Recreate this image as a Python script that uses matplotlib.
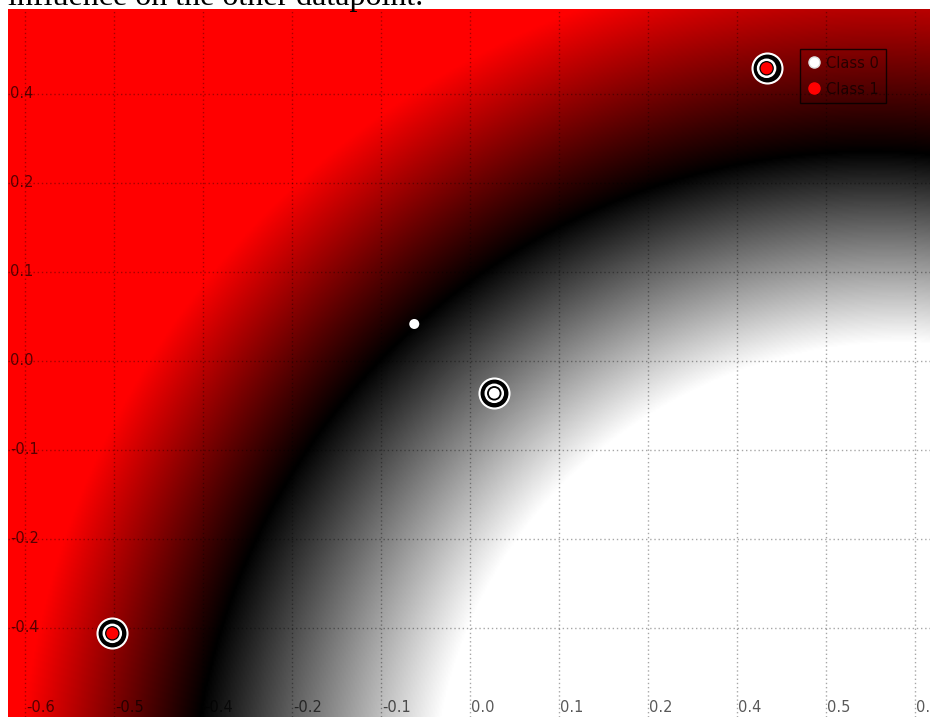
import numpy as np
import matplotlib
matplotlib.use("Agg")
import matplotlib.pyplot as plt
from matplotlib.colors import LinearSegmentedColormap
from matplotlib.lines import Line2D
from matplotlib import transforms

# data points
class0_x = [0.0273, -0.0626]
class0_y = [-0.0363, 0.0416]
class1_x = [-0.4019, 0.3333]
class1_y = [-0.306, 0.3289]
sv0 = [True, False]   # which class 0 points are support vectors
sv1 = [True, True]

# decision field: zero (black) on a circle, fading to white inside and red outside
field_center = (0.4494, -0.5281)
r_boundary = 0.764
# band widths towards the left (horizontal) and upwards (vertical)
white_width = (0.270, 0.2135)
red_width = (0.197, 0.225)
angle_up, angle_left = np.radians(85), np.radians(170)

x_ticks = [-0.5, -0.4, -0.3, -0.2, -0.1, 0.0, 0.1, 0.2, 0.3, 0.4, 0.5]
x_labels = ["-0.6", "-0.5", "-0.4", "-0.2", "-0.1", "0.0", "0.1", "0.2", "0.4", "0.5", "0."]
y_ticks = [0.3, 0.2, 0.1, 0.0, -0.1, -0.2, -0.3]
y_labels = ["0.4", "0.2", "0.1", "0.0", "-0.1", "-0.2", "-0.4"]

xlim = (-0.5191, 0.5169)
ylim = (-0.4, 0.3955)

fig = plt.figure(figsize=(9.3, 7.17), dpi=100)
ax = fig.add_axes([8 / 930, 0, 922 / 930, 708 / 717])

# background field
gx = np.linspace(xlim[0], xlim[1], 700)
gy = np.linspace(ylim[0], ylim[1], 560)
X, Y = np.meshgrid(gx, gy)
dx, dy = X - field_center[0], Y - field_center[1]
R = np.hypot(dx, dy)
phi = np.arctan2(dy, dx)
s = np.clip((phi - angle_up) / (angle_left - angle_up), 0, 1)
w_in = white_width[1] + s * (white_width[0] - white_width[1])
w_out = red_width[1] + s * (red_width[0] - red_width[1])
d = R - r_boundary
val = np.where(d < 0, d / w_in, d / w_out)
cmap = LinearSegmentedColormap.from_list("wbr", ["white", "black", "red"])
ax.imshow(np.clip(val, -1, 1), cmap=cmap, vmin=-1, vmax=1, origin="lower",
          extent=[xlim[0], xlim[1], ylim[0], ylim[1]], interpolation="bilinear",
          aspect="auto", zorder=0)

ax.set_xlim(xlim)
ax.set_ylim(ylim)
ax.set_xticks(x_ticks)
ax.set_yticks(y_ticks)
ax.tick_params(length=0, labelbottom=False, labelleft=False)
ax.grid(True, color="black", alpha=0.35, linestyle=(0, (1, 2)), linewidth=1)
for sp in ax.spines.values():
    sp.set_visible(False)

# tick labels drawn inside the plot area
lab_color = (0, 0, 0, 0.65)
xoff = transforms.offset_copy(ax.transData, fig=fig, x=1, y=0, units="dots")
xtrans = transforms.blended_transform_factory(xoff, ax.transAxes)
xtrans = xtrans + transforms.ScaledTranslation(0, 5 / 100, fig.dpi_scale_trans)
for xt, lb in zip(x_ticks, x_labels):
    ax.text(xt, 0, lb, transform=xtrans, fontsize=10.5, color=lab_color,
            ha="left", va="baseline")
ytrans = transforms.blended_transform_factory(ax.transAxes, ax.transData)
for yt, lb in zip(y_ticks, y_labels):
    ax.text(2 / 922, yt, lb, transform=ytrans, fontsize=10.5, color=lab_color,
            ha="left", va="center")

# support vectors get a black ring with white outlines
sv_x = [x for x, f in zip(class0_x + class1_x, sv0 + sv1) if f]
sv_y = [y for y, f in zip(class0_y + class1_y, sv0 + sv1) if f]
ax.scatter(sv_x, sv_y, s=466, facecolor="black", edgecolor="white", linewidth=1.5, zorder=3)
ax.scatter(sv_x, sv_y, s=150, facecolor="none", edgecolor="white", linewidth=1.8, zorder=4)

ax.scatter(class0_x, class0_y, s=[60 if f else 52 for f in sv0], facecolor="white",
           edgecolor="none", zorder=5)
ax.scatter(class1_x, class1_y, s=75, facecolor="red", edgecolor="none", zorder=5)

handles = [Line2D([], [], marker="o", linestyle="", markersize=8, markerfacecolor="white",
                  markeredgecolor="#dddddd", label="Class 0"),
           Line2D([], [], marker="o", linestyle="", markersize=8, markerfacecolor="red",
                  markeredgecolor="red", label="Class 1")]
leg = ax.legend(handles=handles, loc="upper left", bbox_to_anchor=(0.859, 0.9435),
                borderaxespad=0, fancybox=False, fontsize=10.5,
                handletextpad=0.35, borderpad=0.45, labelspacing=0.75, handlelength=1)
leg.get_frame().set_edgecolor((0, 0, 0, 0.6))
leg.get_frame().set_facecolor("none")
leg.get_frame().set_linewidth(1)
for t in leg.get_texts():
    t.set_color(lab_color)

fig.text(8 / 930, 1 - 5 / 717, "influence on the other datapoint.", family="Liberation Serif",
         fontsize=23, va="baseline", ha="left", color="black")

fig.savefig("out.png", dpi=100)
